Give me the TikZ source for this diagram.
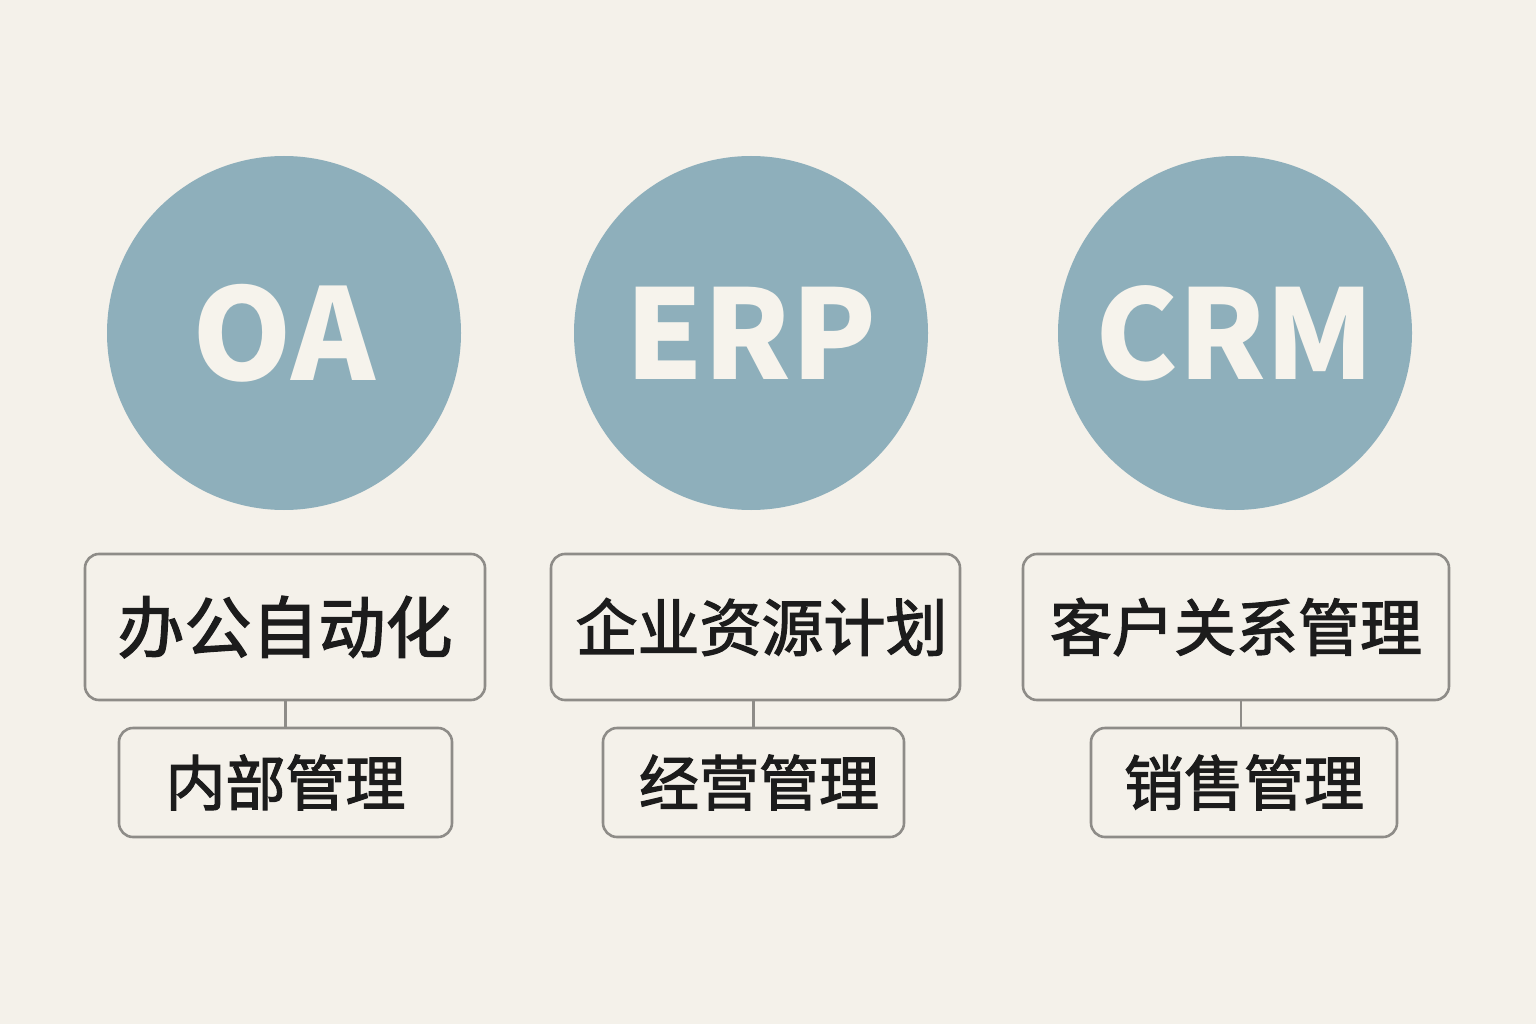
\documentclass[tikz,border=0pt]{standalone}
\usepackage{fontspec}
\setmainfont{Noto Sans CJK SC}
\newfontfamily\cjkm{Noto Sans CJK SC}[FakeBold=2]
\definecolor{bg}{HTML}{F4F1EA}
\definecolor{circ}{HTML}{8EAFBB}
\definecolor{circtxt}{HTML}{F6F3EC}
\definecolor{edge}{HTML}{8E8C88}
\definecolor{ink}{HTML}{1C1C1C}
\begin{document}
\begin{tikzpicture}[x=1pt,y=-1pt,
  bubble/.style={circle,fill=circ,draw=none,minimum size=354pt,inner sep=0pt,text=circtxt,
    font=\fontsize{124}{126}\selectfont\bfseries},
  topbox/.style={rectangle,rounded corners=14pt,draw=edge,line width=2.6pt,fill=bg,
    minimum height=146pt,inner sep=0pt,text=ink,font=\cjkm\fontsize{62}{66}\selectfont},
  subbox/.style={rectangle,rounded corners=14pt,draw=edge,line width=2.6pt,fill=bg,
    minimum height=109pt,inner sep=0pt,text=ink,font=\cjkm\fontsize{60}{64}\selectfont},
  link/.style={draw=edge,line width=2.2pt}]
\fill[bg] (0,0) rectangle (1536,1024);
\useasboundingbox (0,0) rectangle (1536,1024);
% circles
\node[bubble,font=\fontsize{127}{130}\selectfont\bfseries] (oa) at (284,333) {OA};
\node[bubble] (erp) at (751,333) {ERP};
\node[bubble] (crm) at (1235,333) {CRM};
% top boxes
\node[topbox,minimum width=400pt,font=\cjkm\fontsize{67}{70}\selectfont] (oa1) at (285,627) {办公自动化};
\node[topbox,minimum width=409pt] (erp1) at (755.5,627) {\hspace*{12pt}企业资源计划};
\node[topbox,minimum width=426pt] (crm1) at (1236,627) {客户关系管理};
% sub boxes
\node[subbox,minimum width=333pt] (oa2) at (285.5,782.5) {内部管理};
\node[subbox,minimum width=301pt] (erp2) at (753.5,782.5) {\hspace*{11pt}经营管理};
\node[subbox,minimum width=306pt] (crm2) at (1244,782.5) {销售管理};
% connectors
\draw[link] (oa2.north) -- (oa2.north |- oa1.south);
\draw[link] (erp2.north) -- (erp2.north |- erp1.south);
\draw[link] ([xshift=-3pt]crm2.north) -- ([xshift=-3pt]crm2.north |- crm1.south);
\end{tikzpicture}
\end{document}
